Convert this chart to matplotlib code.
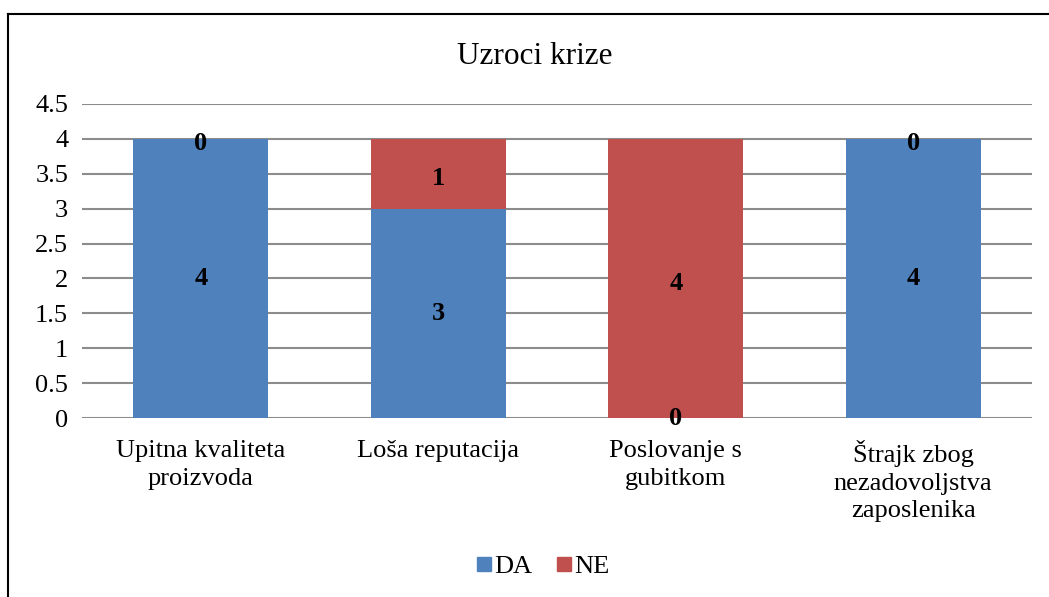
import numpy as np
import matplotlib.pyplot as plt
from matplotlib.lines import Line2D

categories = ["Upitna kvaliteta\nproizvoda", "Loša reputacija",
              "Poslovanje s\ngubitkom", "Štrajk zbog\nnezadovoljstva\nzaposlenika"]
da_values = [4, 3, 0, 4]
ne_values = [0, 1, 4, 0]
yticks = [0, 0.5, 1, 1.5, 2, 2.5, 3, 3.5, 4, 4.5]

plt.rcParams['font.family'] = ['Liberation Serif', 'DejaVu Serif']

fig = plt.figure(figsize=(10.49, 5.97), dpi=100)
ax = fig.add_axes([0.0782, 0.2998, 0.9056, 0.526])

x = np.arange(len(categories))
blue, red = '#4F81BD', '#C0504D'
ax.bar(x, da_values, width=0.57, color=blue, zorder=3)
ax.bar(x, ne_values, width=0.57, bottom=da_values, color=red, zorder=3)

for xi, d, n in zip(x, da_values, ne_values):
    ax.text(xi, d / 2, str(d), ha='center', va='center', fontsize=19,
            fontweight='bold', zorder=4)
    ax.text(xi, d + n / 2 - 0.07, str(n), ha='center', va='center', fontsize=19,
            fontweight='bold', zorder=4)

ax.set_xlim(-0.5, len(categories) - 0.5)
ax.set_ylim(0, 4.5)
ax.set_yticks(yticks)
ax.set_yticklabels([f"{t:g}" for t in yticks], fontsize=19)
ax.set_xticks(x)
ax.set_xticklabels(categories, fontsize=19, linespacing=1.33, va='top')
ax.tick_params(length=0, pad=10)
ax.tick_params(axis='x', pad=16)
ax.yaxis.grid(True, color='#8c8c8c', linewidth=1.5)
ax.set_axisbelow(True)
for s in ax.spines.values():
    s.set_visible(False)

fig.text(0.5095, 0.905, "Uzroci krize", ha='center', va='center', fontsize=22.5)

handles = [Line2D([], [], marker='s', linestyle='none', markersize=10,
                  markerfacecolor=c, markeredgecolor=c) for c in (blue, red)]
fig.legend(handles, ["DA", "NE"], loc='center', bbox_to_anchor=(0.515, 0.051),
           ncol=2, frameon=False, fontsize=19, handletextpad=-0.1,
           columnspacing=0.7, handlelength=1.0)

# chart frame (top and left edges visible)
fig.add_artist(Line2D([0.0081, 1.0], [0.9765, 0.9765], color='black', linewidth=1.5,
                      transform=fig.transFigure))
fig.add_artist(Line2D([0.0081, 0.0081], [0.0, 0.9765], color='black', linewidth=1.5,
                      transform=fig.transFigure))

fig.savefig("out.png", dpi=100)
